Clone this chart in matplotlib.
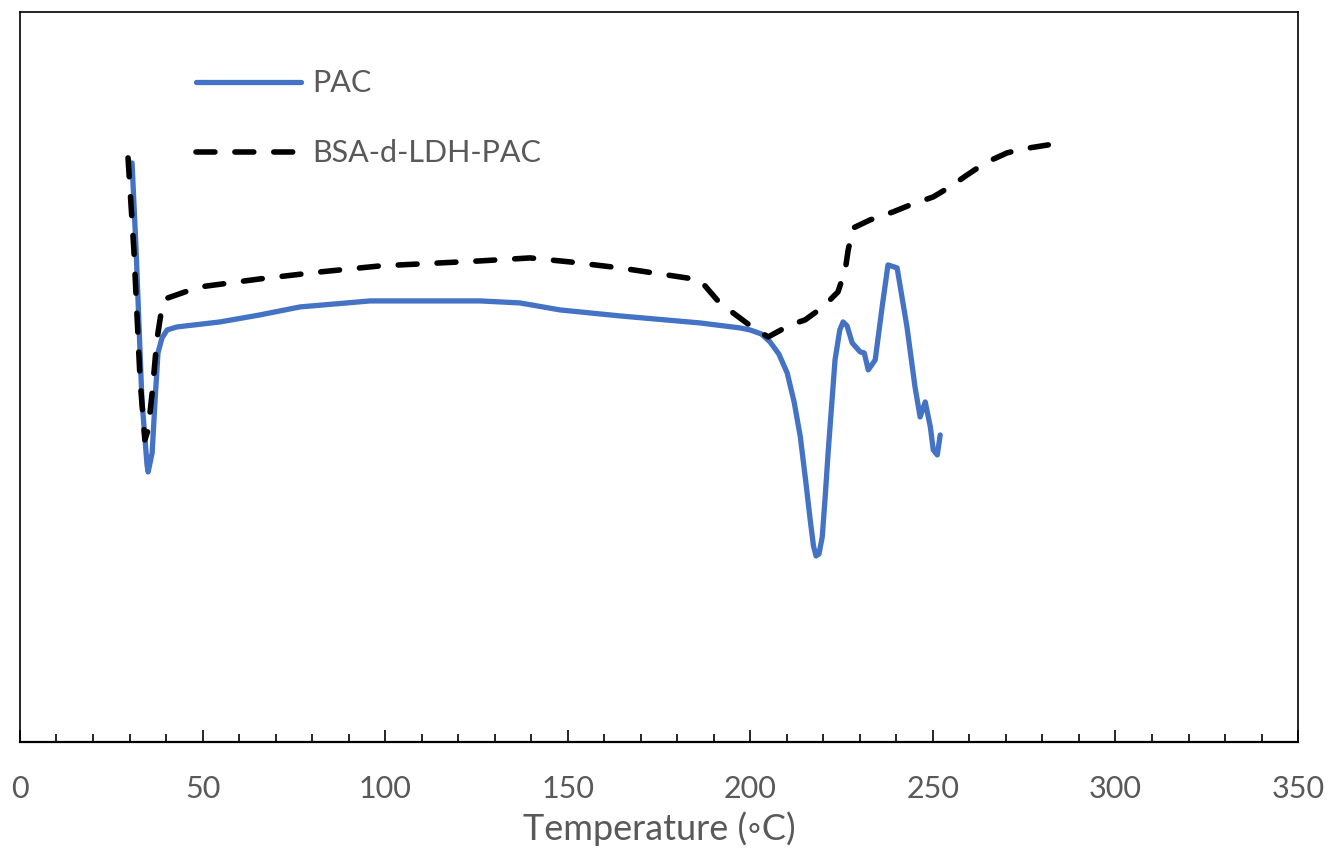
import numpy as np
import matplotlib.pyplot as plt
from matplotlib.ticker import MultipleLocator

# PAC (trait bleu)
t_pac = [30.7, 31.8, 33.4, 34.8, 35.1, 36.2, 37.0, 37.8, 38.9, 40.3, 43.0, 50.1, 54.8,
         65.7, 76.7, 95.9, 126.0, 136.9, 147.9, 164.3, 186.2, 197.2, 199.9, 203.0, 205.4,
         207.8, 210.1, 212.0, 213.7, 215.2, 216.4, 217.3, 218.0, 218.8, 219.7, 220.5, 221.3,
         223.2, 224.5, 225.4, 226.5, 227.9, 230.1, 231.2,
         232.3, 234.2, 236.1, 237.7, 240.2, 242.9, 245.1, 246.5, 247.9, 249.3, 250.1,
         251.2, 252.0]
y_pac = [57.9, 49.2, 34.2, 27.7, 27.0, 28.9, 34.2, 38.9, 40.4, 41.2, 41.5, 41.8, 42.0,
         42.7, 43.5, 44.1, 44.1, 43.9, 43.2, 42.6, 41.9, 41.4, 41.2, 40.8, 40.0,
         38.8, 36.9, 34.0, 30.5, 26.0, 22.2, 19.6, 18.6, 18.8, 20.5, 24.5, 28.9,
         38.2, 41.2, 42.0, 41.6, 39.9, 39.0, 38.9,
         37.2, 38.2, 43.5, 47.7, 47.4, 41.5, 35.5, 32.5, 34.0, 31.5, 29.2,
         28.7, 30.7]

# BSA-d-LDH-PAC (tirets noirs)
t_bsa = [29.6, 31.2, 32.9, 34.2, 35.1, 36.2, 37.5, 38.9, 40.5, 45.2, 49.3, 57.5, 65.7,
         82.2, 98.6, 109.6, 126.0, 139.7, 150.6, 164.3, 175.3, 186.2, 190.9, 195.3,
         200.8, 204.9, 210.9, 215.0, 219.9, 224.0, 226.0, 226.8, 228.2, 232.8, 239.1,
         243.8, 250.1, 254.2, 259.4, 264.3, 270.3, 274.7, 281.6]
y_bsa = [58.4, 49.2, 36.2, 30.2, 31.2, 34.9, 40.2, 43.5, 44.4, 45.0, 45.5, 45.9, 46.3,
         47.0, 47.6, 47.8, 48.1, 48.4, 48.0, 47.4, 46.8, 46.2, 44.2, 42.9,
         41.4, 40.5, 41.7, 42.2, 43.5, 45.0, 47.2, 49.2, 51.4, 52.2, 53.0,
         53.7, 54.5, 55.4, 56.7, 57.9, 58.9, 59.3, 59.7]

plt.rcParams['font.family'] = ['Lato', 'DejaVu Sans']

fig = plt.figure(figsize=(13.3, 8.48), dpi=100)
ax = fig.add_axes([0.015, 0.125, 0.961, 0.861])

ax.plot(t_pac, y_pac, color='#4472C4', lw=3.8, label='PAC', solid_capstyle='round',
        solid_joinstyle='round')
ax.plot(t_bsa, y_bsa, color='black', lw=4, dashes=(3.4, 3.6), dash_capstyle='round',
        label='BSA-d-LDH-PAC')

ax.set_xlim(0, 350)
ax.set_ylim(0, 73)
ax.xaxis.set_major_locator(MultipleLocator(50))
ax.xaxis.set_minor_locator(MultipleLocator(10))
ax.tick_params(axis='x', which='major', direction='in', length=9, width=1.2,
               labelsize=22, labelcolor='#595959', pad=24)
ax.tick_params(axis='x', which='minor', direction='in', length=6, width=1.2)
ax.set_yticks([])
for s in ax.spines.values():
    s.set_linewidth(1.2)
ax.spines['bottom'].set_linewidth(1.6)

ax.set_xlabel('Temperature (◦C)', fontsize=26, color='#595959', labelpad=6)

ax.legend(loc='upper left', bbox_to_anchor=(0.116, 0.959), frameon=False, fontsize=22,
          handlelength=3.44, labelspacing=1.38, handletextpad=0.38, labelcolor='#595959')

plt.savefig('out.png', dpi=100)
